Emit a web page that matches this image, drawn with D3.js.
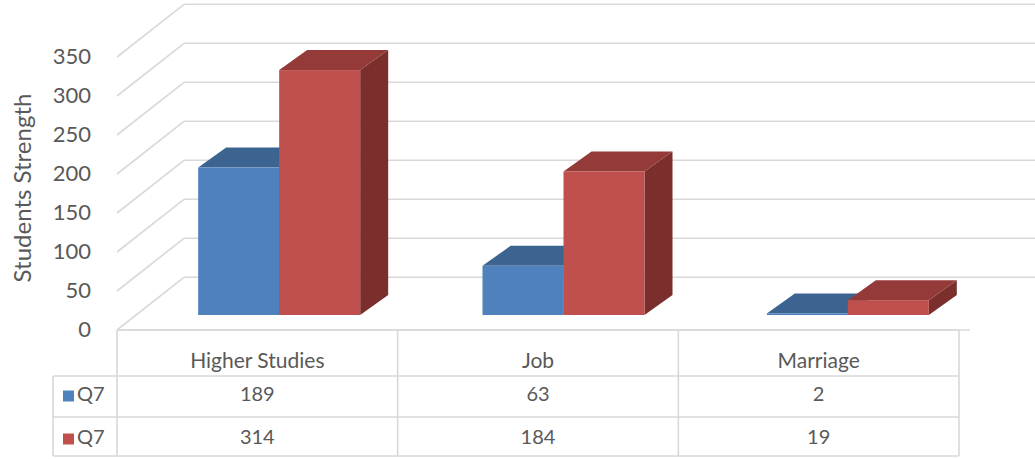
<!DOCTYPE html>
<html>
<head>
<meta charset="utf-8">
<script src="https://cdn.jsdelivr.net/npm/d3@7"></script>
<style>
  html, body { margin: 0; padding: 0; background: #fff; }
  svg { display: block; }
  text { font-family: Lato, "Open Sans", sans-serif; fill: #595959; }
</style>
</head>
<body>
<svg id="chart" width="1035" height="459"></svg>
<script>
// ---- data ----
const categories = ["Higher Studies", "Job", "Marriage"];
const seriesNames = ["Q7", "Q7"];
const seriesBlue = [189, 63, 2];
const seriesRed = [314, 184, 19];
const tickValues = [0, 50, 100, 150, 200, 250, 300, 350];
const yTitle = "Students Strength";

// ---- style / geometry ----
const colors = [
  { front: "#4F81BD", top: "#3C6491", side: "#2F4F75" },
  { front: "#C0504D", top: "#943B39", side: "#7A2F2D" }
];
const gridColor = "#D9D9D9";
const floorLeft = 117, floorRight = 970, tableRight = 959;
const depthDX = 67, depthDY = -52.7;     // full floor depth
const barDX = 28, barDY = -20;           // bar depth
const barPlaneDX = 19, barPlaneDY = -15; // bar front plane offset

const svg = d3.select("#chart");

// value scale on the front plane of the floor
const y = d3.scaleLinear().domain([0, 350]).range([330, 57]);
// value scale on the bars' front plane
const yBar = d3.scaleLinear().domain([0, 350]).range([330 + barPlaneDY, 57 + barPlaneDY]);

const x0 = d3.scaleBand().domain(categories).range([137, 990]).paddingInner(0).paddingOuter(0);
const x1 = d3.scaleBand().domain([0, 1]).range([0, x0.bandwidth()]).paddingInner(0).paddingOuter(0.755);
const xTable = d3.scaleBand().domain(categories).range([floorLeft, tableRight]);

// ---- walls / gridlines ----
const grid = svg.append("g").attr("stroke", gridColor).attr("stroke-width", 1.6).attr("fill", "none");
grid.selectAll("line.back").data(tickValues).join("line")
  .attr("x1", floorLeft + depthDX).attr("x2", floorRight + depthDX)
  .attr("y1", d => y(d) + depthDY).attr("y2", d => y(d) + depthDY);
grid.selectAll("line.side").data(tickValues).join("line")
  .attr("x1", floorLeft).attr("x2", floorLeft + depthDX)
  .attr("y1", d => y(d)).attr("y2", d => y(d) + depthDY);
grid.append("line").attr("x1", floorLeft).attr("x2", floorRight)
  .attr("y1", y(0)).attr("y2", y(0));

// ---- tick labels ----
svg.append("g").selectAll("text").data(tickValues).join("text")
  .attr("x", 91).attr("y", d => y(d) + 1)
  .attr("text-anchor", "end").attr("dominant-baseline", "middle")
  .style("font-size", "22px")
  .text(d => d);

// ---- axis title ----
svg.append("text")
  .attr("transform", "translate(31,188) rotate(-90)")
  .attr("text-anchor", "middle")
  .style("font-size", "24px")
  .text(yTitle);

// ---- bars ----
const series = [seriesBlue, seriesRed];
const bars = svg.append("g");
categories.forEach((cat, i) => {
  series.forEach((vals, s) => {
    const v = vals[i];
    const xl = x0(cat) + x1(s), xr = xl + x1.bandwidth();
    const yt = yBar(v), yb = yBar(0);
    const c = colors[s];
    const g = bars.append("g");
    g.append("polygon").attr("fill", c.side)
      .attr("points", [[xr, yt], [xr + barDX, yt + barDY], [xr + barDX, yb + barDY], [xr, yb]].join(" "));
    g.append("polygon").attr("fill", c.top)
      .attr("points", [[xl, yt], [xl + barDX, yt + barDY], [xr + barDX, yt + barDY], [xr, yt]].join(" "));
    g.append("rect").attr("fill", c.front)
      .attr("x", xl).attr("y", yt).attr("width", xr - xl).attr("height", yb - yt);
  });
});

// ---- data table ----
const rowTops = [330, 376, 417, 456];
const legendLeft = 53;
const tbl = svg.append("g").attr("stroke", gridColor).attr("stroke-width", 1.6);
tbl.append("line").attr("x1", floorLeft).attr("x2", tableRight).attr("y1", rowTops[0]).attr("y2", rowTops[0]);
rowTops.slice(1).forEach(yy => {
  tbl.append("line").attr("x1", legendLeft).attr("x2", tableRight).attr("y1", yy).attr("y2", yy);
});
tbl.append("line").attr("x1", legendLeft).attr("x2", legendLeft).attr("y1", rowTops[1]).attr("y2", rowTops[3]);
const colEdges = [floorLeft].concat(categories.map(c => xTable(c) + xTable.bandwidth()));
colEdges.forEach(xx => {
  tbl.append("line").attr("x1", xx).attr("x2", xx).attr("y1", rowTops[0]).attr("y2", rowTops[3]);
});

// header
svg.append("g").selectAll("text").data(categories).join("text")
  .attr("x", d => xTable(d) + xTable.bandwidth() / 2)
  .attr("y", 363).attr("text-anchor", "middle").attr("dominant-baseline", "middle")
  .style("font-size", "21px")
  .text(d => d);

// rows
const rowCenters = [396, 439];
series.forEach((vals, s) => {
  const g = svg.append("g");
  g.append("rect").attr("x", 63).attr("y", rowCenters[s] - 5.5).attr("width", 11).attr("height", 11)
    .attr("fill", colors[s].front);
  g.append("text").attr("x", 77).attr("y", rowCenters[s]).attr("dominant-baseline", "middle")
    .style("font-size", "20px").text(seriesNames[s]);
  g.selectAll("text.v").data(vals).join("text")
    .attr("x", (d, i) => xTable(categories[i]) + xTable.bandwidth() / 2)
    .attr("y", rowCenters[s]).attr("text-anchor", "middle").attr("dominant-baseline", "middle")
    .style("font-size", "20px")
    .text(d => d);
});
</script>
</body>
</html>
